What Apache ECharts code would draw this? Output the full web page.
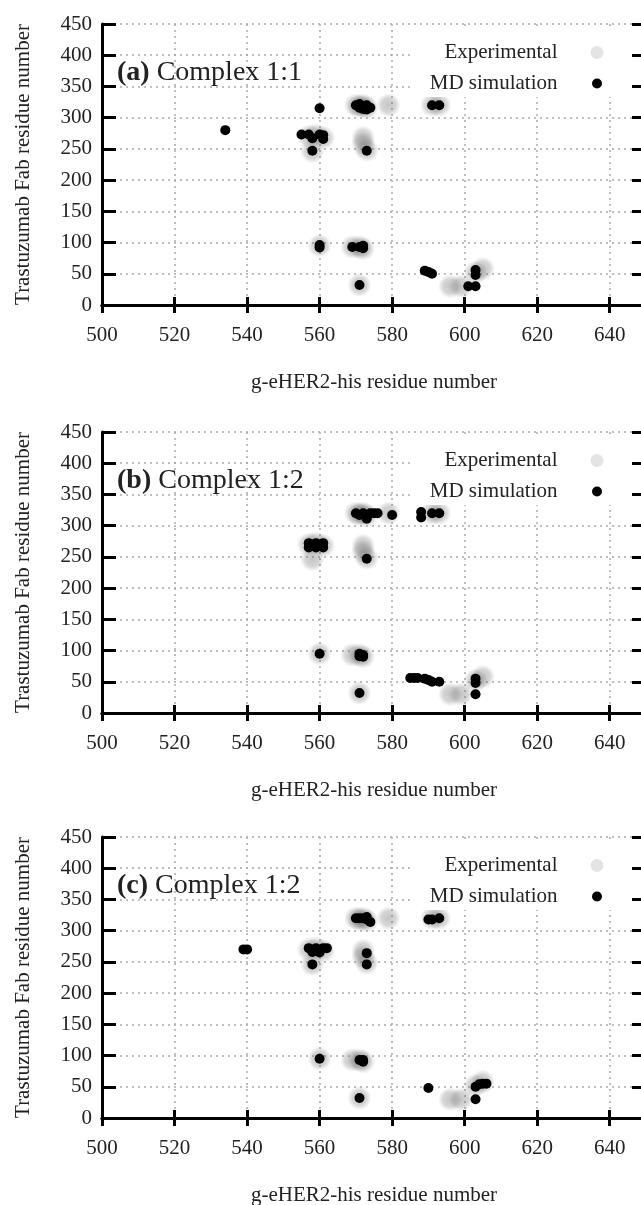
<!DOCTYPE html>
<html>
<head>
<meta charset="utf-8">
<script src="https://cdn.jsdelivr.net/npm/echarts@6/dist/echarts.min.js"></script>
<style>
  html, body { margin: 0; padding: 0; background: #fff; }
  #main { width: 641px; height: 1205px; }
</style>
</head>
<body>
<div id="main"></div>
<script>
const FONT = 'Liberation Serif';
const TEXT_COLOR = '#222';

// panel captions
const panelTags = ['(a)', '(b)', '(c)'];
const panelNames = ['Complex 1:1', 'Complex 1:2', 'Complex 1:2'];

// axis ranges / ticks
const xRange = [500, 650];
const xStep = 20;
const yRange = [0, 450];
const yStep = 50;
const xTitle = 'g-eHER2-his residue number';
const yTitle = 'Trastuzumab Fab residue number';
const legendNames = ['Experimental', 'MD simulation'];

// experimental contacts (same in every panel) [g-eHER2-his residue, Fab residue]
const expPoints = [
  [570, 320], [571, 318], [572, 320], [573, 316], [579, 320], [591, 320], [593, 320],
  [557, 270], [559, 272], [561, 268], [558, 246],
  [572, 268], [572, 258], [573, 248],
  [560, 95], [569, 93], [571, 93], [572, 90],
  [571, 32], [596, 30], [599, 30], [603, 52], [605, 58]
];

// MD simulation contacts, complex 1:1
const mdA = [
  [534, 280], [560, 315],
  [555, 273], [557, 273], [558, 267], [560, 273], [561, 266], [561, 272],
  [558, 247], [573, 247],
  [570, 320], [571, 322], [572, 318], [573, 320], [574, 316], [572, 314], [571, 316], [573, 313],
  [591, 320], [593, 320],
  [560, 96], [560, 92], [569, 93], [571, 93], [572, 95], [572, 91],
  [571, 32], [589, 55], [590, 53], [591, 50],
  [603, 56], [603, 48], [601, 30], [603, 30]
];

// MD simulation contacts, complex 1:2 (b)
const mdB = [
  [570, 320], [571, 317], [572, 320], [573, 314], [574, 320], [575, 320], [576, 320], [573, 311],
  [580, 317], [588, 322], [588, 313], [591, 320], [593, 320],
  [557, 272], [557, 265], [559, 272], [559, 265], [561, 272], [561, 265],
  [573, 247],
  [560, 95], [571, 95], [572, 93], [572, 90], [571, 91],
  [571, 32],
  [585, 56], [586, 56], [587, 56], [589, 55], [590, 53], [591, 50], [593, 50],
  [603, 55], [603, 48], [603, 30]
];

// MD simulation contacts, complex 1:2 (c)
const mdC = [
  [539, 270], [540, 270],
  [557, 272], [558, 266], [559, 272], [560, 265], [561, 272], [562, 272],
  [558, 246], [573, 264], [573, 246],
  [570, 320], [571, 320], [572, 320], [573, 318], [574, 314], [573, 322],
  [590, 318], [591, 318], [593, 320],
  [560, 95], [571, 93], [572, 93], [572, 90],
  [571, 32], [590, 48],
  [603, 50], [604, 54], [605, 55], [606, 55], [603, 30]
];

const mdSets = [mdA, mdB, mdC];
const gridTops = [24, 432, 837];
const GRID_LEFT = 102, GRID_W = 544, GRID_H = 281;

const chart = echarts.init(document.getElementById('main'), null, { renderer: 'canvas' });

// soft grey spot for the experimental contacts
const blob = {
  type: 'radial', x: 0.5, y: 0.5, r: 0.5,
  colorStops: [
    { offset: 0, color: 'rgba(105,105,105,0.38)' },
    { offset: 0.6, color: 'rgba(105,105,105,0.28)' },
    { offset: 1, color: 'rgba(105,105,105,0)' }
  ]
};

const grids = [], xAxes = [], yAxes = [], series = [], legends = [], titles = [];
const frame = { lineStyle: { color: '#000', width: 3 } };
const dots = { type: [2, 4], color: '#aaa', width: 1.5 };

for (let i = 0; i < 3; i++) {
  grids.push({
    left: GRID_LEFT, top: gridTops[i], width: GRID_W, height: GRID_H,
    containLabel: false, outerBoundsMode: 'none'
  });

  // bottom + top x axes
  xAxes.push({
    gridIndex: i, type: 'value', position: 'bottom',
    min: xRange[0], max: xRange[1], interval: xStep,
    axisLine: frame,
    axisTick: { inside: true, length: 8, lineStyle: { color: '#000', width: 3 } },
    axisLabel: { margin: 20, fontFamily: FONT, fontSize: 21, color: TEXT_COLOR, showMaxLabel: false, hideOverlap: false },
    splitLine: { show: true, lineStyle: dots },
    name: xTitle, nameLocation: 'middle', nameGap: 67,
    nameTextStyle: { fontFamily: FONT, fontSize: 21, color: TEXT_COLOR }
  });
  xAxes.push({
    gridIndex: i, type: 'value', position: 'top', z: 10,
    min: xRange[0], max: xRange[1], interval: xStep,
    axisLine: frame,
    axisTick: { inside: true, length: 8, lineStyle: { color: '#000', width: 3 } },
    axisLabel: { show: false },
    splitLine: { show: false }
  });

  // left + right y axes
  yAxes.push({
    gridIndex: i, type: 'value', position: 'left',
    min: yRange[0], max: yRange[1], interval: yStep,
    axisLine: frame,
    axisTick: { inside: true, length: 14, lineStyle: { color: '#000', width: 3 } },
    axisLabel: { margin: 10, fontFamily: FONT, fontSize: 21, color: TEXT_COLOR },
    splitLine: { show: true, lineStyle: dots },
    name: yTitle, nameLocation: 'middle', nameRotate: 90, nameGap: 68,
    nameTextStyle: { fontFamily: FONT, fontSize: 21, color: TEXT_COLOR }
  });
  yAxes.push({
    gridIndex: i, type: 'value', position: 'right', z: 10,
    min: yRange[0], max: yRange[1], interval: yStep,
    axisLine: frame,
    axisTick: { inside: true, length: 14, lineStyle: { color: '#000', width: 3 } },
    axisLabel: { show: false },
    splitLine: { show: false }
  });

  series.push({
    name: legendNames[0], type: 'scatter',
    xAxisIndex: i * 2, yAxisIndex: i * 2,
    data: expPoints, symbolSize: 24, silent: true,
    itemStyle: { color: blob, opacity: 1 }, z: 2
  });
  series.push({
    name: legendNames[1], type: 'scatter',
    xAxisIndex: i * 2, yAxisIndex: i * 2,
    data: mdSets[i], symbolSize: 10, silent: true,
    itemStyle: { color: '#000', opacity: 1 }, z: 3
  });

  legends.push({
    orient: 'vertical', align: 'right', right: 0, top: gridTops[i] + 2,
    itemWidth: 13, itemHeight: 13, itemGap: 10,
    padding: [16, 36, 3, 18],
    backgroundColor: '#fff',
    selectedMode: false,
    textStyle: { fontFamily: FONT, fontSize: 21, color: TEXT_COLOR, lineHeight: 20, padding: [0, 28, 0, 0] },
    data: [
      { name: legendNames[0], icon: 'circle', itemStyle: { color: '#e4e4e4', opacity: 1 } },
      { name: legendNames[1], icon: 'circle', itemStyle: { color: '#000', opacity: 1, borderColor: '#fff', borderWidth: 3 } }
    ]
  });

  titles.push({
    text: '{b|' + panelTags[i] + '} ' + panelNames[i],
    left: 117, top: gridTops[i] + 34, padding: 0,
    textStyle: {
      fontFamily: FONT, fontSize: 28, fontWeight: 'normal', color: TEXT_COLOR, lineHeight: 30,
      rich: { b: { fontFamily: FONT, fontSize: 28, fontWeight: 'bold', color: TEXT_COLOR, lineHeight: 30 } }
    }
  });
}

var option = {
  animation: false,
  backgroundColor: '#fff',
  title: titles,
  legend: legends,
  grid: grids,
  xAxis: xAxes,
  yAxis: yAxes,
  tooltip: { show: false },
  series: series
};

chart.setOption(option);
</script>
</body>
</html>
